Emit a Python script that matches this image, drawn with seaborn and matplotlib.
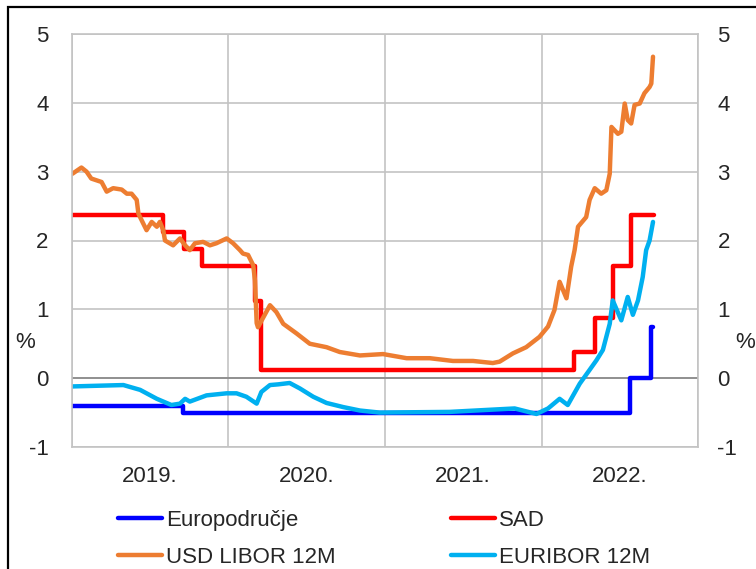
import pandas as pd
import matplotlib
matplotlib.use("Agg")
import matplotlib.pyplot as plt
import matplotlib.dates as mdates
from matplotlib.patches import Rectangle
import seaborn as sns

sns.set_style("white")
plt.rcParams["font.family"] = ["Liberation Sans", "DejaVu Sans"]
plt.rcParams["axes.unicode_minus"] = False

# --- data ---
ez_dates = ["2019-01-01", "2019-09-18", "2022-07-27", "2022-09-14", "2022-09-19"]
ez_rate = [-0.40, -0.50, 0.00, 0.75, 0.75]

us_dates = ["2019-01-01", "2019-08-01", "2019-09-19", "2019-10-31", "2020-03-04",
            "2020-03-16", "2022-03-17", "2022-05-05", "2022-06-16", "2022-07-28",
            "2022-09-20"]
us_rate = [2.375, 2.125, 1.875, 1.625, 1.125, 0.125, 0.375, 0.875, 1.625, 2.375, 2.375]

libor_dates = ["2019-01-02", "2019-01-23", "2019-02-04", "2019-02-15", "2019-03-11",
               "2019-03-23", "2019-04-07", "2019-04-27", "2019-05-09", "2019-05-20",
               "2019-06-01", "2019-06-05", "2019-06-16", "2019-06-24", "2019-07-06",
               "2019-07-18", "2019-07-25", "2019-08-02", "2019-08-06", "2019-08-25",
               "2019-09-10", "2019-09-22", "2019-10-03", "2019-10-15", "2019-11-03",
               "2019-11-19", "2019-12-04", "2019-12-28", "2020-01-12", "2020-01-28",
               "2020-02-04", "2020-02-16", "2020-02-28", "2020-03-03", "2020-03-07",
               "2020-03-10", "2020-04-07", "2020-04-22", "2020-05-08", "2020-06-08",
               "2020-07-09", "2020-08-17", "2020-09-17", "2020-11-03", "2020-12-27",
               "2021-02-20", "2021-04-15", "2021-06-08", "2021-07-25", "2021-09-09",
               "2021-09-25", "2021-10-26", "2021-11-26", "2021-12-27", "2022-01-16",
               "2022-01-31", "2022-02-12", "2022-02-28", "2022-03-11", "2022-03-19",
               "2022-03-27", "2022-04-15", "2022-04-23", "2022-05-05", "2022-05-20",
               "2022-06-01", "2022-06-09", "2022-06-13", "2022-06-28", "2022-07-06",
               "2022-07-14", "2022-07-21", "2022-07-29", "2022-08-06", "2022-08-18",
               "2022-08-29", "2022-09-10", "2022-09-14", "2022-09-18"]
libor_rate = [2.97, 3.06, 3.00, 2.90, 2.85,
              2.71, 2.76, 2.74, 2.68, 2.68,
              2.59, 2.39, 2.25, 2.15, 2.27,
              2.20, 2.27, 2.15, 2.00, 1.93,
              2.03, 1.93, 1.86, 1.96, 1.98,
              1.93, 1.96, 2.03, 1.96, 1.86,
              1.81, 1.79, 1.64, 1.42, 0.80,
              0.74, 1.06, 0.96, 0.79, 0.65,
              0.50, 0.45, 0.38, 0.33, 0.35,
              0.29, 0.29, 0.25, 0.25, 0.22,
              0.24, 0.36, 0.45, 0.60, 0.75,
              0.99, 1.40, 1.16, 1.62, 1.86,
              2.20, 2.34, 2.59, 2.76, 2.68,
              2.73, 2.97, 3.65, 3.55, 3.58,
              3.99, 3.75, 3.70, 3.97, 3.99,
              4.14, 4.23, 4.28, 4.67]

euribor_dates = ["2019-01-02", "2019-05-01", "2019-06-09", "2019-07-18", "2019-08-21",
                 "2019-09-10", "2019-09-22", "2019-10-03", "2019-11-11", "2019-12-28",
                 "2020-01-20", "2020-02-12", "2020-03-07", "2020-03-18", "2020-04-07",
                 "2020-04-26", "2020-05-23", "2020-06-16", "2020-07-17", "2020-08-17",
                 "2020-09-25", "2020-11-03", "2020-12-19", "2021-05-31", "2021-10-30",
                 "2021-12-20", "2022-01-16", "2022-02-12", "2022-03-03", "2022-03-31",
                 "2022-04-23", "2022-05-09", "2022-05-24", "2022-06-09", "2022-06-16",
                 "2022-07-06", "2022-07-21", "2022-08-02", "2022-08-14", "2022-08-25",
                 "2022-09-02", "2022-09-10", "2022-09-18"]
euribor_rate = [-0.12, -0.10, -0.17, -0.30, -0.39,
                -0.37, -0.30, -0.34, -0.25, -0.22,
                -0.22, -0.27, -0.37, -0.20, -0.10,
                -0.09, -0.07, -0.15, -0.27, -0.36,
                -0.42, -0.47, -0.50, -0.49, -0.44,
                -0.52, -0.44, -0.30, -0.39, -0.08,
                0.12, 0.26, 0.41, 0.79, 1.13,
                0.84, 1.18, 0.92, 1.13, 1.47,
                1.86, 2.00, 2.27]

labels = ["Europodručje", "SAD", "USD LIBOR 12M", "EURIBOR 12M"]
colors = ["#0000FF", "#FF0000", "#ED7D31", "#00B0F0"]
year_labels = ["2019.", "2020.", "2021.", "2022."]

fig = plt.figure(figsize=(7.56, 5.69), dpi=100)
ax = fig.add_axes([72 / 756, 1 - 447 / 569, 626 / 756, 413 / 569])

series = [(ez_dates, ez_rate, "steps-post"),
          (us_dates, us_rate, "steps-post"),
          (libor_dates, libor_rate, "default"),
          (euribor_dates, euribor_rate, "default")]
for (d, v, ds), lab, col in zip(series, labels, colors):
    sns.lineplot(x=pd.to_datetime(d), y=v, ax=ax, color=col, lw=3.2,
                 drawstyle=ds, label=lab, legend=False)

ax.axhline(0, color="#8C8C8C", lw=1.3, zorder=1)

ax.set_xlim(pd.Timestamp("2019-01-01"), pd.Timestamp("2023-01-01"))
ax.set_ylim(-1, 5)
ax.set_yticks(range(-1, 6))
ax.xaxis.set_major_locator(mdates.YearLocator())
ax.xaxis.set_major_formatter(plt.NullFormatter())
ax.set_xticks(pd.to_datetime([f"{y[:4]}-07-02" for y in year_labels]), minor=True)
ax.set_xticklabels(year_labels, minor=True)
ax.grid(True, which="major", color="#C3C3C3", lw=1.2)
ax.tick_params(axis="x", which="both", length=0, pad=14, labelsize=16)
ax.tick_params(axis="y", length=0, pad=17, labelsize=16)
for s in ax.spines.values():
    s.set_color("#C3C3C3")
    s.set_linewidth(1.2)
ax.set_xlabel("")
ax.set_ylabel("%", rotation=0, fontsize=16, va="center", ha="center")
ax.yaxis.set_label_coords(-0.075, 0.252)

ax2 = ax.twinx()
ax2.set_ylim(-1, 5)
ax2.set_yticks(range(-1, 6))
ax2.tick_params(axis="y", length=0, pad=14, labelsize=16)
for s in ax2.spines.values():
    s.set_visible(False)
ax2.set_ylabel("%", rotation=0, fontsize=16, va="center", ha="center")
ax2.yaxis.set_label_coords(1.075, 0.252)

h, l = ax.get_legend_handles_labels()
order = [0, 2, 1, 3]
ax.legend([h[i] for i in order], [l[i] for i in order], ncol=2, frameon=False,
          loc="upper center", bbox_to_anchor=(0.499, -0.13), fontsize=16,
          handlelength=1.95, handletextpad=0.2, columnspacing=5.2,
          labelspacing=0.75, borderaxespad=0)

fig.patches.append(Rectangle((8 / 756, -0.1), 1.2, 1.1 - 7 / 569,
                             transform=fig.transFigure, fill=False,
                             edgecolor="black", lw=1.6))

fig.savefig("out.png", dpi=100)
